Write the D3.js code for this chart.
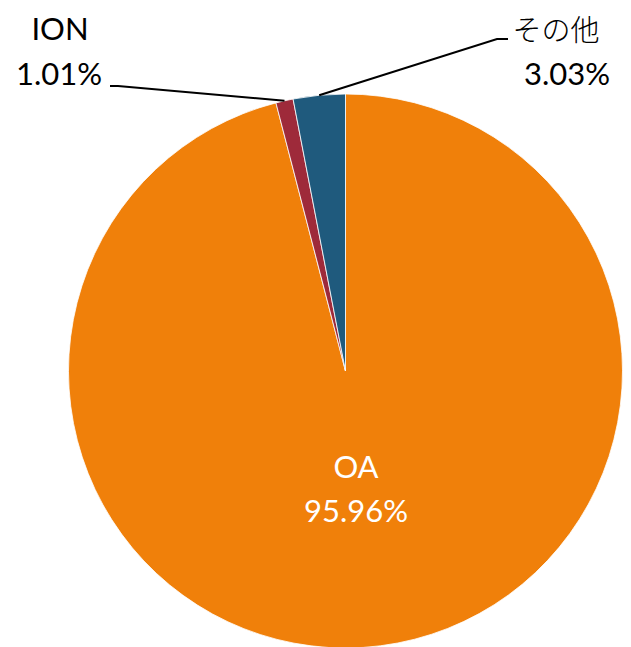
<!DOCTYPE html>
<html>
<head>
<meta charset="utf-8">
<script src="https://cdn.jsdelivr.net/npm/d3@7"></script>
<style>
  body { margin: 0; background: #fff; }
  text { font-family: Lato, "Open Sans", sans-serif; }
  .jp { font-family: "Noto Sans CJK JP", sans-serif; }
</style>
</head>
<body>
<div id="pie-chart"></div>
<script>
  var categories = ['OA', 'ION', 'その他'],
    values = [95.96, 1.01, 3.03],
    colors = ['#f0800a', '#9e2a3a', '#1f5a7d'];

  var width = 631, height = 647,
    center = { x: 345.5, y: 371 },
    radius = 277;

  var chart = d3.select('#pie-chart')
    .append('svg')
    .attr('width', width)
    .attr('height', height);

  var pie = d3.pie().sort(null).value(function (d) { return d; }),
    arcs = pie(values),
    path = d3.arc().innerRadius(0).outerRadius(radius),
    edge = d3.arc().innerRadius(radius).outerRadius(radius);

  var pieGroup = chart.append('g')
    .attr('transform', 'translate(' + center.x + ',' + center.y + ')');

  pieGroup.selectAll('.section')
    .data(arcs)
    .enter()
    .append('path')
    .classed('section', true)
    .attr('d', path)
    .style('fill', function (d, i) { return colors[i]; })
    .style('stroke', '#fff')
    .style('stroke-width', 0.8);

  // leader lines: from slice edge midpoint to the label
  var leaders = [
    { i: 1, to: [110 - center.x, 86 - center.y], knee: [118 - center.x, 86 - center.y] },
    { i: 2, to: [508 - center.x, 39 - center.y], knee: [497 - center.x, 39 - center.y] }
  ];

  pieGroup.selectAll('.leader')
    .data(leaders)
    .enter()
    .append('polyline')
    .classed('leader', true)
    .attr('points', function (d) {
      var p = edge.centroid(arcs[d.i]);
      return [p, d.knee, d.to].map(function (q) { return q.join(','); }).join(' ');
    })
    .style('fill', 'none')
    .style('stroke', '#000')
    .style('stroke-width', 2);

  function fmt(v) { return v.toFixed(2) + '%'; }

  // OA label inside
  chart.append('text')
    .attr('x', 356).attr('y', 478)
    .attr('text-anchor', 'middle')
    .style('font-size', '31px').style('fill', '#fff')
    .text(categories[0]);
  chart.append('text')
    .attr('x', 356).attr('y', 522)
    .attr('text-anchor', 'middle')
    .style('font-size', '31px').style('fill', '#fff')
    .text(fmt(values[0]));

  // ION label
  chart.append('text')
    .attr('x', 60).attr('y', 40)
    .attr('text-anchor', 'middle')
    .style('font-size', '31px').style('fill', '#000')
    .text(categories[1]);
  chart.append('text')
    .attr('x', 59).attr('y', 85)
    .attr('text-anchor', 'middle')
    .style('font-size', '31px').style('fill', '#000')
    .text(fmt(values[1]));

  // その他 label
  chart.append('text')
    .classed('jp', true)
    .attr('x', 556).attr('y', 41)
    .attr('text-anchor', 'middle')
    .style('font-size', '29px').style('font-weight', 300).style('fill', '#000')
    .text(categories[2]);
  chart.append('text')
    .attr('x', 567).attr('y', 85)
    .attr('text-anchor', 'middle')
    .style('font-size', '31px').style('fill', '#000')
    .text(fmt(values[2]));
</script>
</body>
</html>
